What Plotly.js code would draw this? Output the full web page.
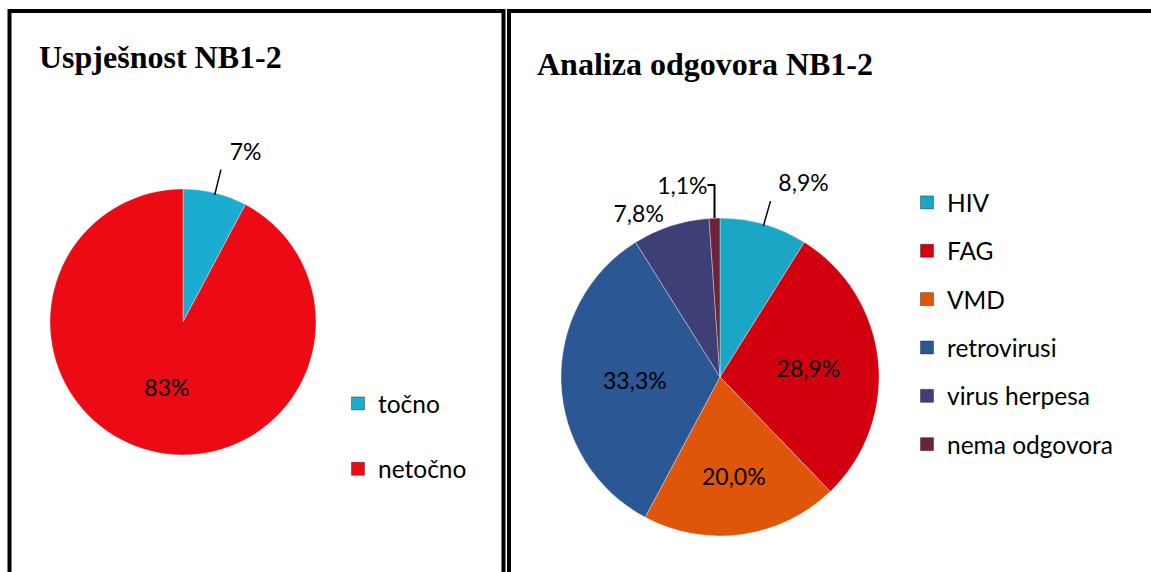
<!DOCTYPE html>
<html>
<head>
<meta charset="utf-8">
<script src="https://cdn.plot.ly/plotly-3.0.1.min.js"></script>
<style>html,body{margin:0;padding:0;background:#fff;}#chart{width:1151px;height:572px;}</style>
</head>
<body>
<div id="chart"></div>
<script>
// ---- data ----
const leftTitle = 'Uspješnost NB1-2';
const leftLabels = ['točno', 'netočno'];
const leftValues = [7, 83];
const leftColors = ['#1AADCF', '#EC0A14'];

const rightTitle = 'Analiza odgovora NB1-2';
const rightLabels = ['HIV', 'FAG', 'VMD', 'retrovirusi', 'virus herpesa', 'nema odgovora'];
const rightValues = [8.9, 28.9, 20.0, 33.3, 7.8, 1.1];
const rightColors = ['#1BA6C6', '#D2000E', '#DF560A', '#2B5895', '#3E3F76', '#6E2337'];

// ---- styling / geometry ----
const W = 1151, H = 572;
const txtFont = {family: 'Lato, "Noto Sans", sans-serif', size: 23, color: '#000'};
const legFont = {family: 'Lato, "Noto Sans", sans-serif', size: 24.5, color: '#000'};
const fmtL = '%{value}%', fmtR = '%{value:.1f}%', lift = '<br> ';
const leftPie = {cx: 183, cy: 322, r: 133};
const rightPie = {cx: 720, cy: 377, r: 159};

function domainFromPx(p) {
  return {x: [(p.cx - p.r) / W, (p.cx + p.r) / W], y: [1 - (p.cy + p.r) / H, 1 - (p.cy - p.r) / H]};
}

// leader line from the rim of slice i outwards, derived from the slice's mid-angle
function leader(p, values, i, len) {
  const total = values.reduce((a, b) => a + b, 0);
  let before = 0;
  for (let k = 0; k < i; k++) before += values[k];
  const th = 2 * Math.PI * (before + values[i] / 2) / total;
  const s = Math.sin(th), c = Math.cos(th);
  const r0 = p.r - 2, r1 = p.r + len;
  return {
    type: 'line', xref: 'paper', yref: 'paper',
    x0: (p.cx + r0 * s) / W, y0: 1 - (p.cy - r0 * c) / H,
    x1: (p.cx + r1 * s) / W, y1: 1 - (p.cy - r1 * c) / H,
    line: {color: '#000', width: 1.5}
  };
}

const traces = [];
traces.push({
  type: 'pie', labels: leftLabels, values: leftValues, sort: false,
  direction: 'clockwise', rotation: 0,
  marker: {colors: leftColors, line: {color: 'rgba(255,255,255,0.35)', width: 1}},
  texttemplate: [fmtL + lift, fmtL], textposition: ['outside', 'inside'],
  insidetextorientation: 'horizontal',
  textfont: txtFont, insidetextfont: txtFont, outsidetextfont: txtFont,
  domain: domainFromPx(leftPie), showlegend: false, hoverinfo: 'label+value'
});
traces.push({
  type: 'pie', labels: rightLabels, values: rightValues, sort: false,
  direction: 'clockwise', rotation: 0,
  marker: {colors: rightColors, line: {color: 'rgba(255,255,255,0.35)', width: 1}},
  texttemplate: [fmtR + lift, fmtR, fmtR, fmtR, fmtR, fmtR],
  textposition: ['outside', 'inside', 'inside', 'inside', 'outside', 'outside'],
  insidetextorientation: 'horizontal',
  textfont: txtFont, insidetextfont: txtFont, outsidetextfont: txtFont,
  domain: domainFromPx(rightPie), showlegend: false, hoverinfo: 'label+value'
});

// legend entries built from the same category arrays
function legendEntries(labels, colors, legendId) {
  labels.forEach((lab, i) => {
    traces.push({
      type: 'scatter', mode: 'markers', x: [null], y: [null], name: lab,
      legendgroup: legendId + '_' + i, legend: legendId,
      marker: {symbol: 'square', size: 13, color: colors[i], line: {color: 'rgba(0,0,0,0.35)', width: 1}},
      hoverinfo: 'skip'
    });
  });
}
legendEntries(leftLabels, leftColors, 'legend');
legendEntries(rightLabels, rightColors, 'legend2');

const layout = {
  width: W, height: H,
  margin: {l: 0, r: 0, t: 0, b: 0},
  paper_bgcolor: '#fff', plot_bgcolor: '#fff',
  separators: ', ',
  xaxis: {visible: false}, yaxis: {visible: false},
  legend: {
    x: 338 / W, xanchor: 'left', y: 1 - 381 / H, yanchor: 'top',
    traceorder: 'grouped', tracegroupgap: 30.5, font: legFont, bgcolor: 'rgba(0,0,0,0)'
  },
  legend2: {
    x: 907 / W, xanchor: 'left', y: 1 - 180 / H, yanchor: 'top',
    traceorder: 'grouped', tracegroupgap: 13.5, font: legFont, bgcolor: 'rgba(0,0,0,0)'
  },
  annotations: [
    {text: '<b>' + leftTitle + '</b>', xref: 'paper', yref: 'paper', x: 37 / W, y: 1 - 57 / H,
     xanchor: 'left', yanchor: 'middle', showarrow: false,
     font: {family: '"Liberation Serif", "Times New Roman", serif', size: 32, color: '#000'}},
    {text: '<b>' + rightTitle + '</b>', xref: 'paper', yref: 'paper', x: 535 / W, y: 1 - 64 / H,
     xanchor: 'left', yanchor: 'middle', showarrow: false,
     font: {family: '"Liberation Serif", "Times New Roman", serif', size: 32, color: '#000'}}
  ],
  shapes: [
    {type: 'rect', xref: 'paper', yref: 'paper', x0: 9.5 / W, x1: 503.5 / W, y0: -0.05, y1: 1 - 11 / H,
     line: {color: '#000', width: 4}},
    {type: 'rect', xref: 'paper', yref: 'paper', x0: 509 / W, x1: 1.05, y0: -0.05, y1: 1 - 11 / H,
     line: {color: '#000', width: 4}},
    leader(leftPie, leftValues, 0, 24),
    leader(rightPie, rightValues, 0, 24)
  ]
};

Plotly.newPlot('chart', traces, layout, {displayModeBar: false, staticPlot: true});
</script>
</body>
</html>
